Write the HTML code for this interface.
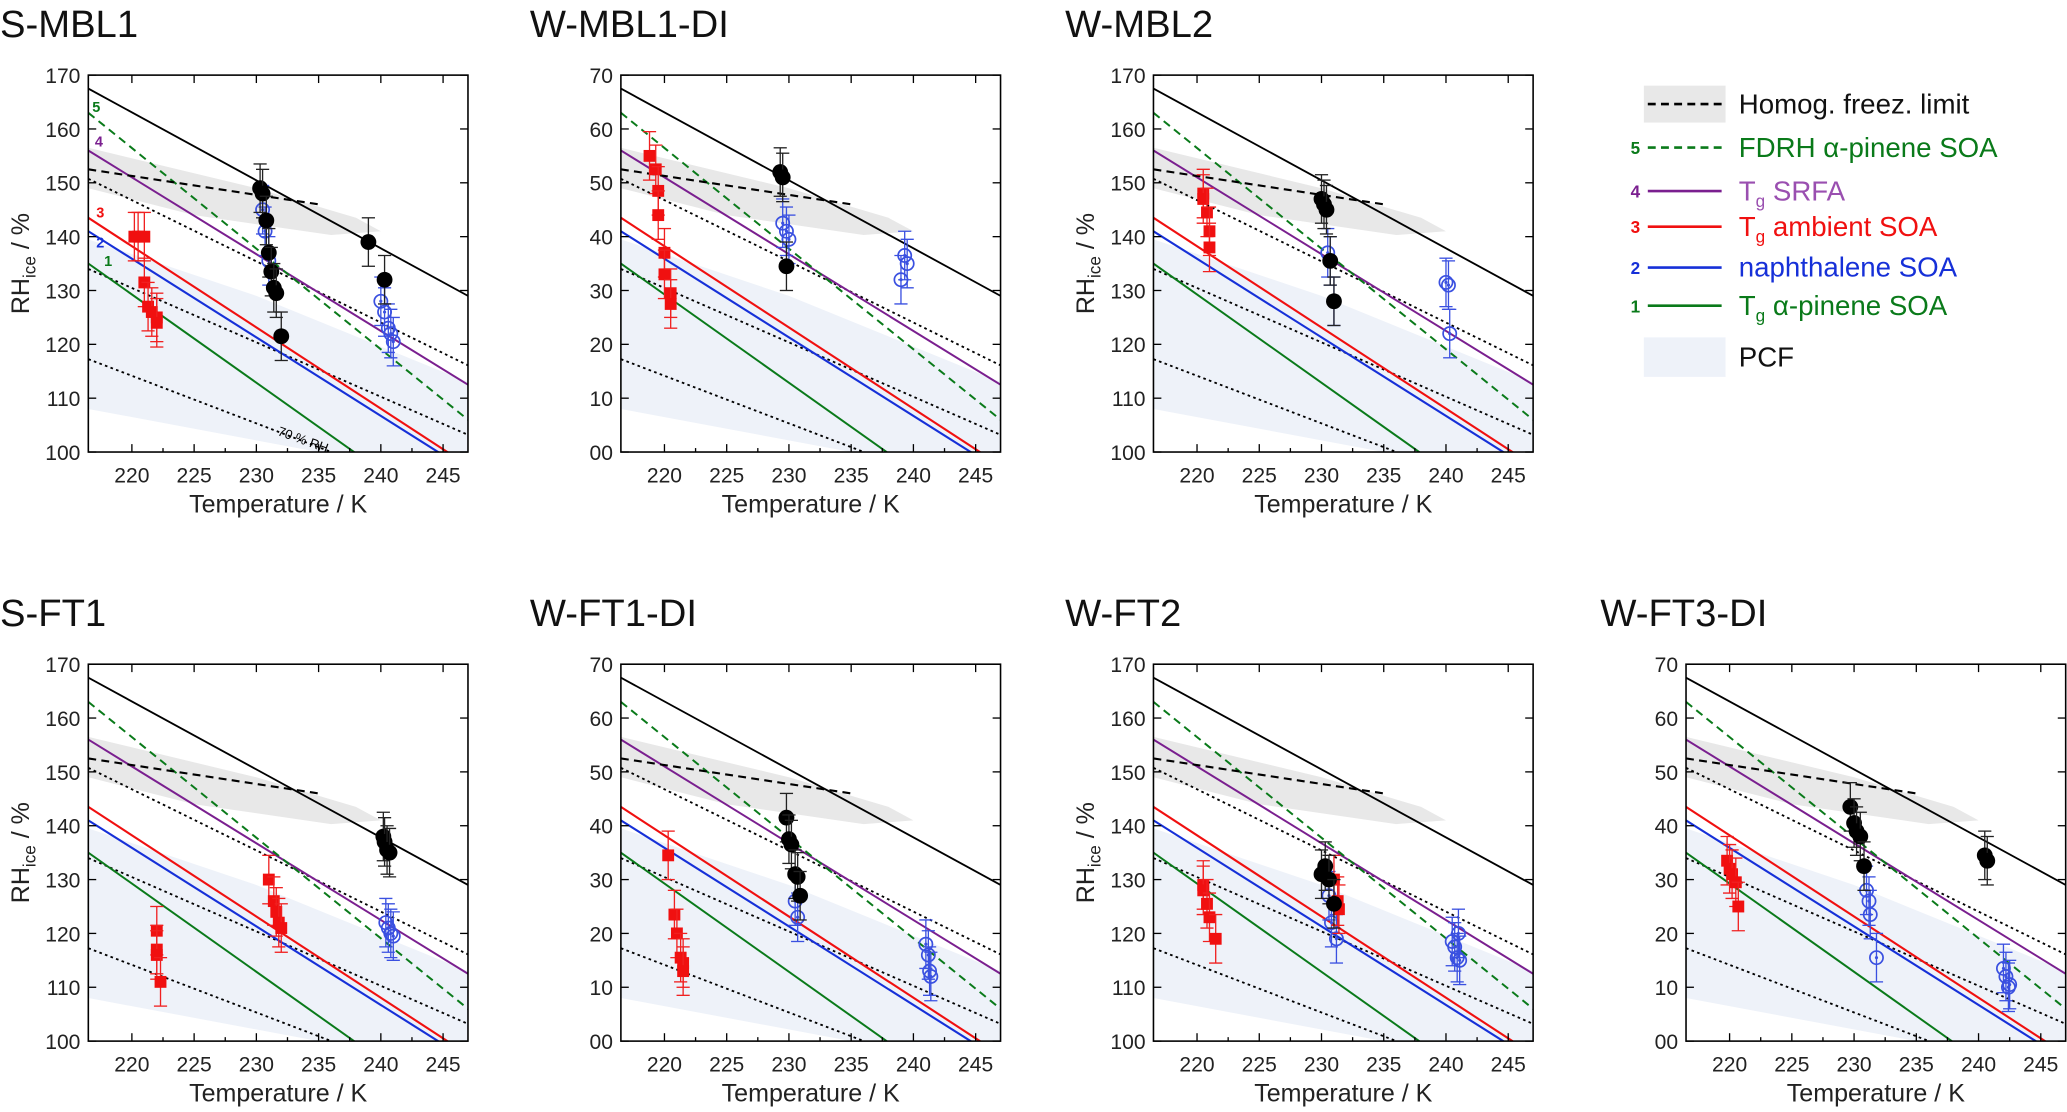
<!DOCTYPE html>
<html><head><meta charset="utf-8">
<style>
body{margin:0;background:#fff;width:2067px;height:1107px;overflow:hidden;font-family:"Liberation Sans",Arial,sans-serif;}
svg text{font-family:"Liberation Sans",Arial,sans-serif;}
</style></head>
<body>
<svg id="fig" width="2067" height="1107" viewBox="0 0 1568 840" preserveAspectRatio="none" xmlns="http://www.w3.org/2000/svg"></svg>
<script>
// ---- data ----
const panelNames = ["S-MBL1","W-MBL1-DI","W-MBL2","S-FT1","W-FT1-DI","W-FT2","W-FT3-DI"];
const xTicks = [220,225,230,235,240,245];
const yTicks = [100,110,120,130,140,150,160,170];
const redT = [
 [220.2,220.5,221,221,221.3,221.6,222,222],
 [218.8,219.3,219.5,219.5,220,220,220.5,220.5],
 [220.5,220.5,220.8,221,221],
 [222,222,222,222.3,231,231.4,231.6,231.8,232],
 [220.3,220.8,221,221.3,221.5,221.5],
 [220.5,220.5,220.8,221,221.5,231,231.3,231.4],
 [219.8,220,220.2,220.5,220.7]];
const redRH = [
 [140,140,140,131.5,127,126,125,124],
 [155,152.5,148.5,144,137,133,129.5,127.5],
 [148,147,144.5,141,138],
 [120.5,117,116,111,130,126,124,122,121],
 [134.5,123.5,120,115.5,114.5,113],
 [129,128,125.5,123,119,130,126,124.5],
 [133.5,132,131,129.5,125]];
const blackT = [
 [230.3,230.5,230.8,231,231.2,231.4,231.6,232,239,240.3],
 [229.3,229.5,229.8],
 [230,230.2,230.4,230.7,231],
 [240.2,240.3,240.5,240.7],
 [229.8,230,230.2,230.5,230.7,230.9],
 [230,230.3,230.6,231],
 [229.7,230,230.2,230.5,230.8,240.5,240.7]];
const blackRH = [
 [149,148,143,137,133.5,130.5,129.5,121.5,139,132],
 [152,151,134.5],
 [147,146,145,135.5,128],
 [138,137,135.5,135],
 [141.5,137.5,136.5,131,130.5,127],
 [131,132.5,130,125.5],
 [143.5,140.5,139,138,132.5,134.5,133.5]];
const blueT = [
 [230.5,230.7,231,240,240.3,240.6,240.8,241],
 [229.5,229.8,230,239,239.3,239.5],
 [230.5,230.7,231,240,240.2,240.3],
 [240.4,240.6,240.8,241],
 [230.5,230.7,241,241.2,241.3,241.4],
 [230.6,230.8,231.2,240.5,240.7,240.9,241.1,241],
 [231,231.2,231.3,231.8,242,242.2,242.4,242.5]];
const blueRH = [
 [145,141,135.5,128,126,123,122,120.5],
 [142.5,141,139.5,132,136.5,135],
 [137,135.5,128,131.5,131,122],
 [122,121,120,119.5],
 [126,123,118,116,113,112],
 [127,122,119,118.5,117.5,115.5,115,120],
 [128,126,123.5,115.5,113.5,112,110,110.5]];
// reference lines: RH_ice at T=216.5 and T=247
const waterLeft = 167.5, waterRight = 129;
const rhFractions = [0.9,0.8,0.7];
const greenDash = [163,106], purpleLine=[156,112.5];
const redLine=[143.5,97.5], blueLine=[141,96.5], greenLine=[135,85];
const homogT=[216.5,235], homogRH=[152.5,146];

const NS="http://www.w3.org/2000/svg";
const svg=document.getElementById('fig');
function mk(tag,attrs,parent){const e=document.createElementNS(NS,tag);for(const k in attrs)e.setAttribute(k,attrs[k]);(parent||svg).appendChild(e);return e;}

const W=288,H=286,T0=216.5,T1=247,R0=100,R1=170;
const layout=[[67,57,0,true],[471,57,402,false],[875,57,808,true],[67,504,0,true],[471,504,402,false],[875,504,808,true],[1279,504,1214,false]];

layout.forEach((L,p)=>{
 const [px,py,tx,full]=L;
 const sx=t=>px+(t-T0)/(T1-T0)*W;
 const sy=r=>py+H-(r-R0)/(R1-R0)*H;
 const g=mk('g',{});
 
 
 const cid='c'+p;
 const cp=mk('clipPath',{id:cid},g);mk('rect',{x:px,y:py,width:W,height:H},cp);
 const pl=mk('g',{'clip-path':'url(#'+cid+')'},g);
 const pcf=mk('polygon',{points:[[216.5,139.5],[230,129],[247,113],[247,92],[235,100],[216.5,108]].map(a=>sx(a[0])+','+sy(a[1])).join(' '),fill:'#eef2f9'},pl);
 
 
 const band=mk('polygon',{points:[[216.5,156.5],[230,149],[238,143.5],[240,141],[236,140.3],[225,144],[216.5,149]].map(a=>sx(a[0])+','+sy(a[1])).join(' '),fill:'#e8e8e8'},pl);
 
 
 const line=(a,b,c,dash,w,name)=>{const e=mk('line',{x1:sx(T0),y1:sy(a),x2:sx(T1),y2:sy(b),stroke:c,'stroke-width':w||1.5},pl);if(dash)e.setAttribute('stroke-dasharray',dash);};
 rhFractions.forEach((f,i)=>line(waterLeft*f,waterRight*f,'#000','2,2.5',1.4,'rh-line-'+Math.round(f*100)));
 line(greenLine[0],greenLine[1],'#0a7a1a','',1.5,'tg-apinene-line');
 line(blueLine[0],blueLine[1],'#1630d8','',1.6,'naphthalene-line');
 line(redLine[0],redLine[1],'#f01010','',1.6,'tg-ambient-line');
 line(purpleLine[0],purpleLine[1],'#7a1f8f','',1.5,'tg-srfa-line');
 line(greenDash[0],greenDash[1],'#0a7a1a','6,4',1.5,'fdrh-line');
 line(waterLeft,waterRight,'#000','',1.4,'water-saturation-line');
 const hl=mk('line',{x1:sx(homogT[0]),y1:sy(homogRH[0]),x2:sx(homogT[1]),y2:sy(homogRH[1]),stroke:'#000','stroke-width':1.6,'stroke-dasharray':'6,4'},pl);
 
 
 const eb=(x,y,e,c)=>{mk('line',{x1:x,y1:sy(y+e),x2:x,y2:sy(y-e),stroke:c,'stroke-width':1},pl);mk('line',{x1:x-5,y1:sy(y+e),x2:x+5,y2:sy(y+e),stroke:c,'stroke-width':1},pl);mk('line',{x1:x-5,y1:sy(y-e),x2:x+5,y2:sy(y-e),stroke:c,'stroke-width':1},pl);};
 blueT[p].forEach((t,i)=>{const x=sx(t),y=sy(blueRH[p][i]);eb(x,blueRH[p][i],4.5,'#3a50e0');const c=mk('circle',{cx:x,cy:y,r:5,fill:'none',stroke:'#3a50e0','stroke-width':1.3},pl);mk('circle',{cx:x,cy:y,r:1.2,fill:'#3a50e0'},pl);});
 redT[p].forEach((t,i)=>{const x=sx(t),y=sy(redRH[p][i]);eb(x,redRH[p][i],4.5,'#f02020');const r=mk('rect',{x:x-4.5,y:y-4.5,width:9,height:9,fill:'#f01010'},pl);});
 blackT[p].forEach((t,i)=>{const x=sx(t),y=sy(blackRH[p][i]);eb(x,blackRH[p][i],4.5,'#222');const c=mk('circle',{cx:x,cy:y,r:6,fill:'#000'},pl);});
 if(p===0){
  [['5',70,85,'#0a7a1a'],['4',72,111,'#7a1f8f'],['3',73,165,'#f01010'],['2',73,188,'#1630d8'],['1',79,202,'#0a7a1a']].forEach(a=>{const t=mk('text',{x:a[1],y:a[2],'font-size':11,'font-weight':'bold',fill:a[3]},g);t.textContent=a[0];});
  const t=mk('text',{x:210,y:330,'font-size':10,fill:'#000',transform:'rotate(20 210 330)'},g);t.textContent='70 % RH';
 }
 const fr=mk('rect',{x:px,y:py,width:W,height:H,fill:'none',stroke:'#000','stroke-width':1.2},g);
 
 xTicks.forEach(v=>{const x=sx(v);mk('line',{x1:x,y1:py+H,x2:x,y2:py+H-6,stroke:'#000'},g);mk('line',{x1:x,y1:py,x2:x,y2:py+6,stroke:'#000'},g);const t=mk('text',{x:x,y:py+H+23,'font-size':16,'text-anchor':'middle',fill:'#222'},g);t.textContent=v;});
 for(let v=222.5;v<247;v+=5){const x=sx(v);mk('line',{x1:x,y1:py+H,x2:x,y2:py+H-3,stroke:'#000'},g);}
 yTicks.forEach(v=>{const y=sy(v);mk('line',{x1:px,y1:y,x2:px+6,y2:y,stroke:'#000'},g);mk('line',{x1:px+W,y1:y,x2:px+W-6,y2:y,stroke:'#000'},g);const t=mk('text',{x:px-6,y:y+6,'font-size':16,'text-anchor':'end',fill:'#222'},g);t.textContent=full?v:String(v).slice(1);});
 const xl=mk('text',{x:px+W/2,y:py+H+46,'font-size':19,'text-anchor':'middle',fill:'#222'},g);xl.textContent='Temperature / K';
 if(full){const yl=mk('text',{x:0,y:0,'font-size':19,'text-anchor':'middle',fill:'#222',transform:'translate('+(px-45)+','+(py+H/2)+') rotate(-90)'},g);yl.innerHTML='RH<tspan font-size="13" dy="5">ice</tspan><tspan dy="-5"> / %</tspan>';}
 const ti=mk('text',{x:tx,y:py-29,'font-size':29,fill:'#111'},g);ti.textContent=panelNames[p];
});
// legend
const lg=mk('g',{});

const items=[['','#000','6,4','Homog. freez. limit','#111',79,true],['5','#0a7a1a','6,4','FDRH α-pinene SOA','#0a7a1a',112],['4','#7a1f8f','','T<tspan font-size="13" dy="5">g</tspan><tspan dy="-5"> SRFA</tspan>','#9a4fb0',145],['3','#f01010','','T<tspan font-size="13" dy="5">g</tspan><tspan dy="-5"> ambient SOA</tspan>','#f01010',172],['2','#1630d8','','naphthalene SOA','#1630d8',203],['1','#0a7a1a','','T<tspan font-size="13" dy="5">g</tspan><tspan dy="-5"> α-pinene SOA</tspan>','#0a7a1a',232]];
items.forEach(it=>{
 const e=mk('g',{},lg);
 const y=it[5];
 if(it[6])mk('rect',{x:1247,y:y-14,width:62,height:28,fill:'#e8e8e8'},e);
 if(it[0]){const n=mk('text',{x:1237,y:y+5,'font-size':13,'font-weight':'bold',fill:it[1]},e);n.textContent=it[0];}
 const l=mk('line',{x1:1250,y1:y,x2:1306,y2:y,stroke:it[1],'stroke-width':2},e);if(it[2])l.setAttribute('stroke-dasharray',it[2]);
 const t=mk('text',{x:1319,y:y+7,'font-size':21,fill:it[4]},e);t.innerHTML=it[3];
});
const pe=mk('g',{},lg);
mk('rect',{x:1247,y:256,width:62,height:30,fill:'#eef2f9'},pe);
const pt=mk('text',{x:1319,y:278,'font-size':21,fill:'#111'},pe);pt.textContent='PCF';
</script>
</body></html>
